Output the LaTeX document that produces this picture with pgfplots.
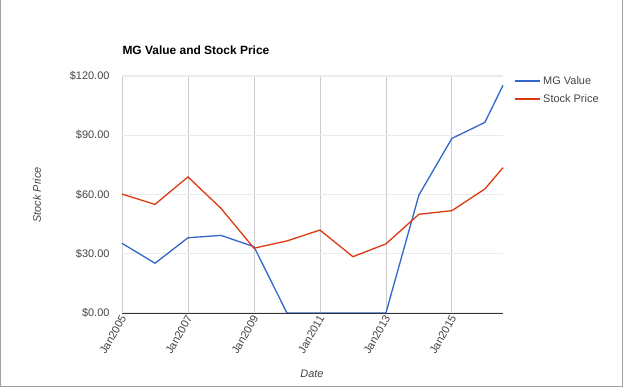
\documentclass[border=0pt]{standalone}
\usepackage{fontspec}
\setmainfont{Liberation Sans}
\usepackage{pgfplots}
\pgfplotsset{compat=1.18}
\definecolor{gblue}{HTML}{3366CC}
\definecolor{gred}{HTML}{DC3912}
\definecolor{ticktext}{HTML}{444444}
\definecolor{hgrid}{HTML}{EBEBEB}
\definecolor{vgrid}{HTML}{CCCCCC}
\definecolor{frame}{HTML}{A0A0A0}
\begin{document}
\begin{tikzpicture}[x=1bp,y=1bp]
\useasboundingbox (0,0) rectangle (624,388);
\draw[frame, line width=1.2bp] (0.6,388) -- (0.6,1.6) -- (622.4,1.6) -- (622.4,388);
\node[anchor=west, font=\fontsize{12}{14}\selectfont\bfseries] at (119,338) {MG Value and Stock Price};
\node[rotate=90, font=\fontsize{11}{13}\selectfont\itshape, text=ticktext] at (37,193) {Stock Price};
\node[font=\fontsize{11}{13}\selectfont\itshape, text=ticktext] at (312,14) {Date};
\begin{axis}[
  at={(122bp,75bp)}, anchor=south west, scale only axis,
  width=381bp, height=237bp,
  xmin=2005, xmax=2016.55, ymin=0, ymax=120,
  ytick={0,30,60,90,120},
  yticklabels={\$0.00,\$30.00,\$60.00,\$90.00,\$120.00},
  xtick={2005,2007,2009,2011,2013,2015},
  xticklabels={Jan2005,Jan2007,Jan2009,Jan2011,Jan2013,Jan2015},
  xticklabel style={rotate=60, anchor=east, font=\fontsize{11}{13}\selectfont, text=ticktext, xshift=3bp, yshift=-2bp},
  yticklabel style={font=\fontsize{11}{13}\selectfont, text=ticktext},
  major tick length=0pt,
  xticklabel shift=2bp, yticklabel shift=9bp,
  axis line style={draw=none},
  xmajorgrids, ymajorgrids,
  x grid style={vgrid, line width=0.8bp},
  y grid style={hgrid, line width=1.2bp},
  clip=false,
  legend style={at={(1,1)}, anchor=north west, xshift=9bp, yshift=4bp, draw=none, fill=none,
    font=\fontsize{11}{13}\selectfont, text=ticktext, row sep=5bp, inner sep=2bp},
  legend cell align=left,
  legend image code/.code={\draw[#1, line width=2bp] (0bp,0bp) -- (25bp,0bp);},
]
\addplot[gblue, line width=1.3bp] coordinates {
(2005,35.3) (2006,25.2) (2007,38.1) (2008,39.3) (2009,33.6) (2010,0) (2011,0) (2012,0) (2013,0)
(2014,59.7) (2015,88.4) (2016,96.5) (2016.55,115.3)};
\addlegendentry{MG Value}
\addplot[gred, line width=1.3bp] coordinates {
(2005,60.2) (2006,55.0) (2007,68.9) (2008,53.0) (2009,32.8) (2010,36.5) (2011,42.0) (2012,28.5) (2013,35.0)
(2014,50.0) (2015,51.8) (2016,62.8) (2016.55,73.6)};
\addlegendentry{Stock Price}
\draw[color={rgb,255:red,51;green,51;blue,51}, line width=1bp] (axis cs:2005,0) -- (axis cs:2016.55,0);
\end{axis}
\end{tikzpicture}
\end{document}
